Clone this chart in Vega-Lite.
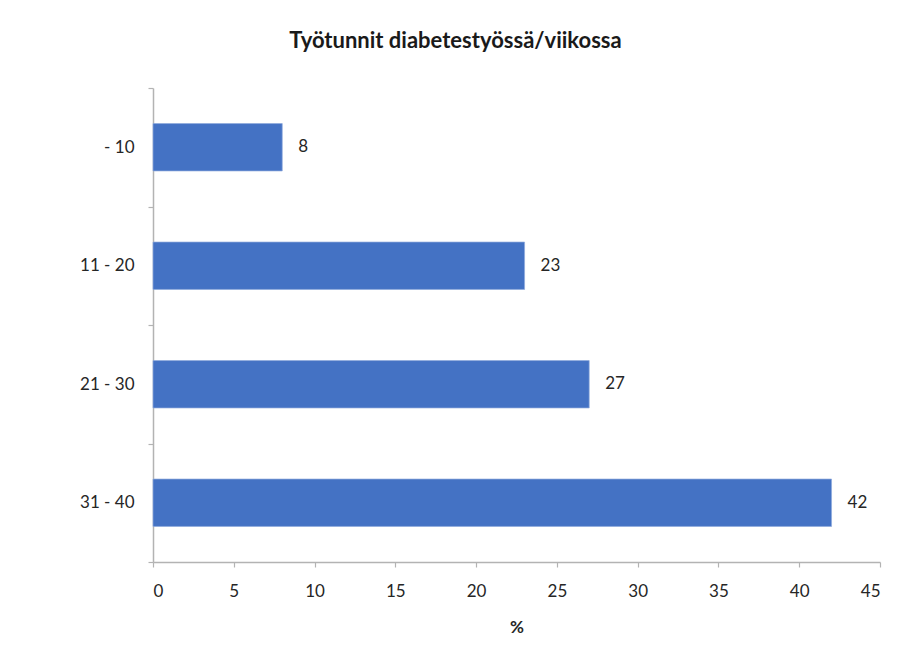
{
  "$schema": "https://vega.github.io/schema/vega-lite/v6.json",
  "autosize": {"type": "none"},
  "width": 727,
  "height": 474,
  "padding": {"left": 153, "top": 88, "right": 30, "bottom": 105},
  "background": "white",
  "title": {
    "text": "Työtunnit diabetestyössä/viikossa",
    "font": "Lato",
    "fontSize": 22,
    "fontWeight": "bold",
    "color": "#1a1a1a",
    "anchor": "middle",
    "dx": -61,
    "offset": 26
  },
  "data": {
    "values": [
      {"tunnit": "- 10", "osuus": 8},
      {"tunnit": "11 - 20", "osuus": 23},
      {"tunnit": "21 - 30", "osuus": 27},
      {"tunnit": "31 - 40", "osuus": 42}
    ]
  },
  "encoding": {
    "y": {
      "field": "tunnit",
      "type": "nominal",
      "sort": null,
      "scale": {"paddingInner": 0, "paddingOuter": 0},
      "axis": {
        "title": null,
        "tickBand": "extent",
        "labelFontSize": 17,
        "labelPadding": 14,
        "tickSize": 5
      }
    },
    "x": {
      "field": "osuus",
      "type": "quantitative",
      "scale": {"domain": [0, 45], "nice": false},
      "axis": {
        "title": "%",
        "values": [0, 5, 10, 15, 20, 25, 30, 35, 40, 45],
        "grid": false,
        "labelFontSize": 17,
        "labelPadding": 16,
        "tickSize": 5,
        "titleFontSize": 17,
        "titleFontWeight": "bold",
        "titlePadding": 20
      }
    }
  },
  "layer": [
    {
      "mark": {"type": "bar", "color": "#4472C4", "stroke": "#8faadc", "strokeWidth": 0.7, "height": {"band": 0.4}}
    },
    {
      "mark": {"type": "text", "align": "left", "baseline": "middle", "dx": 16, "font": "Lato", "fontSize": 17, "color": "#262626"},
      "encoding": {"text": {"field": "osuus", "type": "quantitative"}}
    }
  ],
  "config": {
    "view": {"stroke": null},
    "axis": {
      "labelFont": "Lato",
      "titleFont": "Lato",
      "labelColor": "#262626",
      "titleColor": "#262626",
      "domainColor": "#b3b3b3",
      "tickColor": "#b3b3b3",
      "domainWidth": 1.5,
      "tickWidth": 1.2
    }
  }
}
